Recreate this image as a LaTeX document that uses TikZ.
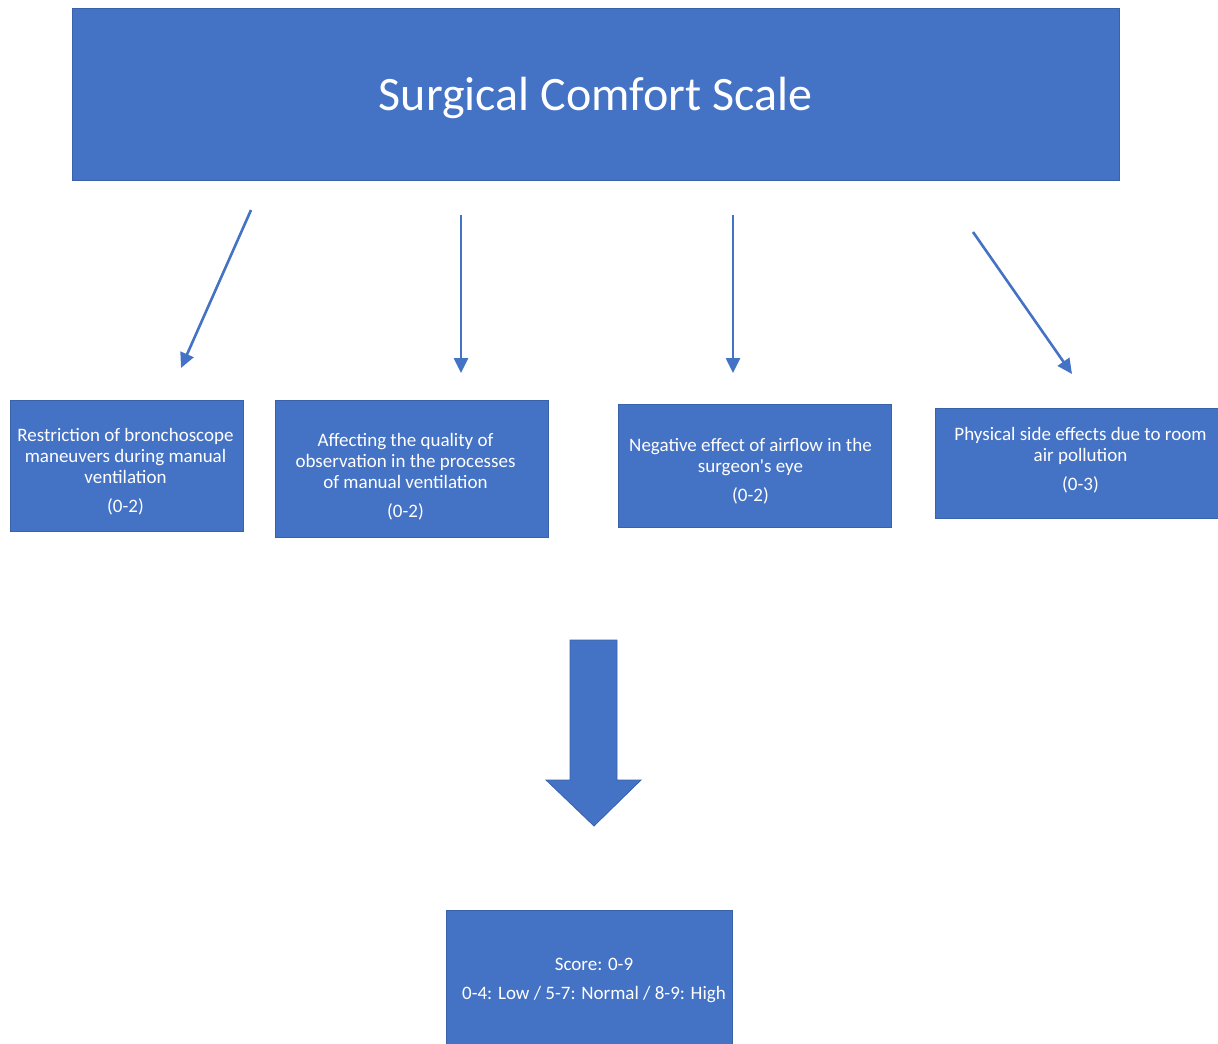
\documentclass[tikz,border=0pt]{standalone}
\usepackage{fontspec}
\setmainfont{Carlito}
\usetikzlibrary{arrows.meta}
\definecolor{boxblue}{HTML}{4472C4}
\definecolor{boxedge}{HTML}{3A62AA}

\tikzset{
  itemstyle/.style={draw=boxedge, line width=0.8pt, fill=boxblue, inner sep=0pt},
  itemtext/.style={text=white, align=center, inner sep=0pt,
    font=\fontsize{19}{21}\selectfont},
  thinarrow/.style={draw=boxblue, line width=2.6pt,
    -{Triangle[length=15pt,width=14pt]}},
}

% name, centre, width, height, text, text offset
\newcommand{\itembox}[6]{%
 \node[itemstyle, minimum width=#3, minimum height=#4] (#1) at (#2) {};%
 \node[itemtext, #6] (#1-text) at (#1.center) {#5};%
}

\begin{document}
\begin{tikzpicture}[x=1pt,y=-1pt]
  \useasboundingbox (0,0) rectangle (1218,1044);
  \itembox{title}{595.5,94}{1047pt}{172pt}{\fontsize{48}{54}\selectfont Surgical Comfort Scale}{yshift=-4pt};
  \itembox{restrict}{126.5,465.5}{233pt}{131pt}{Restriction of bronchoscope\\maneuvers during manual\\ventilation\\[8pt](0-2)}{xshift=-1pt, yshift=-6pt};
  \itembox{quality}{411.5,468.5}{273pt}{137pt}{Affecting the quality of\\observation in the processes\\of manual ventilation\\[8pt](0-2)}{xshift=-6pt, yshift=-8pt};
  \itembox{airflow}{754.5,465.5}{273pt}{123pt}{Negative effect of airflow in the\\surgeon\textquotesingle s eye\\[8pt](0-2)}{xshift=-4pt, yshift=-6pt};
  \itembox{pollution}{1076.5,463}{283pt}{110pt}{Physical side effects due to room\\air pollution\\[8pt](0-3)}{xshift=4pt, yshift=3pt};
  \itembox{score}{589,977}{286pt}{134pt}{Score: 0-9\\[8pt]0-4: Low / 5-7: Normal / 8-9: High}{xshift=5pt, yshift=-3pt};

  % free ends of the thin arrows
  \coordinate (a1s) at (251,210);  \coordinate (a1e) at (181,368);
  \coordinate (a2s) at (461,215);  \coordinate (a2e) at (461,373);
  \coordinate (a3s) at (733,215);  \coordinate (a3e) at (733,373);
  \coordinate (a4s) at (973,232);  \coordinate (a4e) at (1072,374);
  \draw[thinarrow] (a1s) -- (a1e);
  \draw[thinarrow] (a2s) -- (a2e);
  \draw[thinarrow] (a3s) -- (a3e);
  \draw[thinarrow] (a4s) -- (a4e);

  % big block arrow
  \filldraw[fill=boxblue, draw=boxedge, line width=0.8pt]
    (570,640) -- (617,640) -- (617,780) -- (641,780) -- (594,826)
    -- (546,780) -- (570,780) -- cycle;
\end{tikzpicture}
\end{document}
